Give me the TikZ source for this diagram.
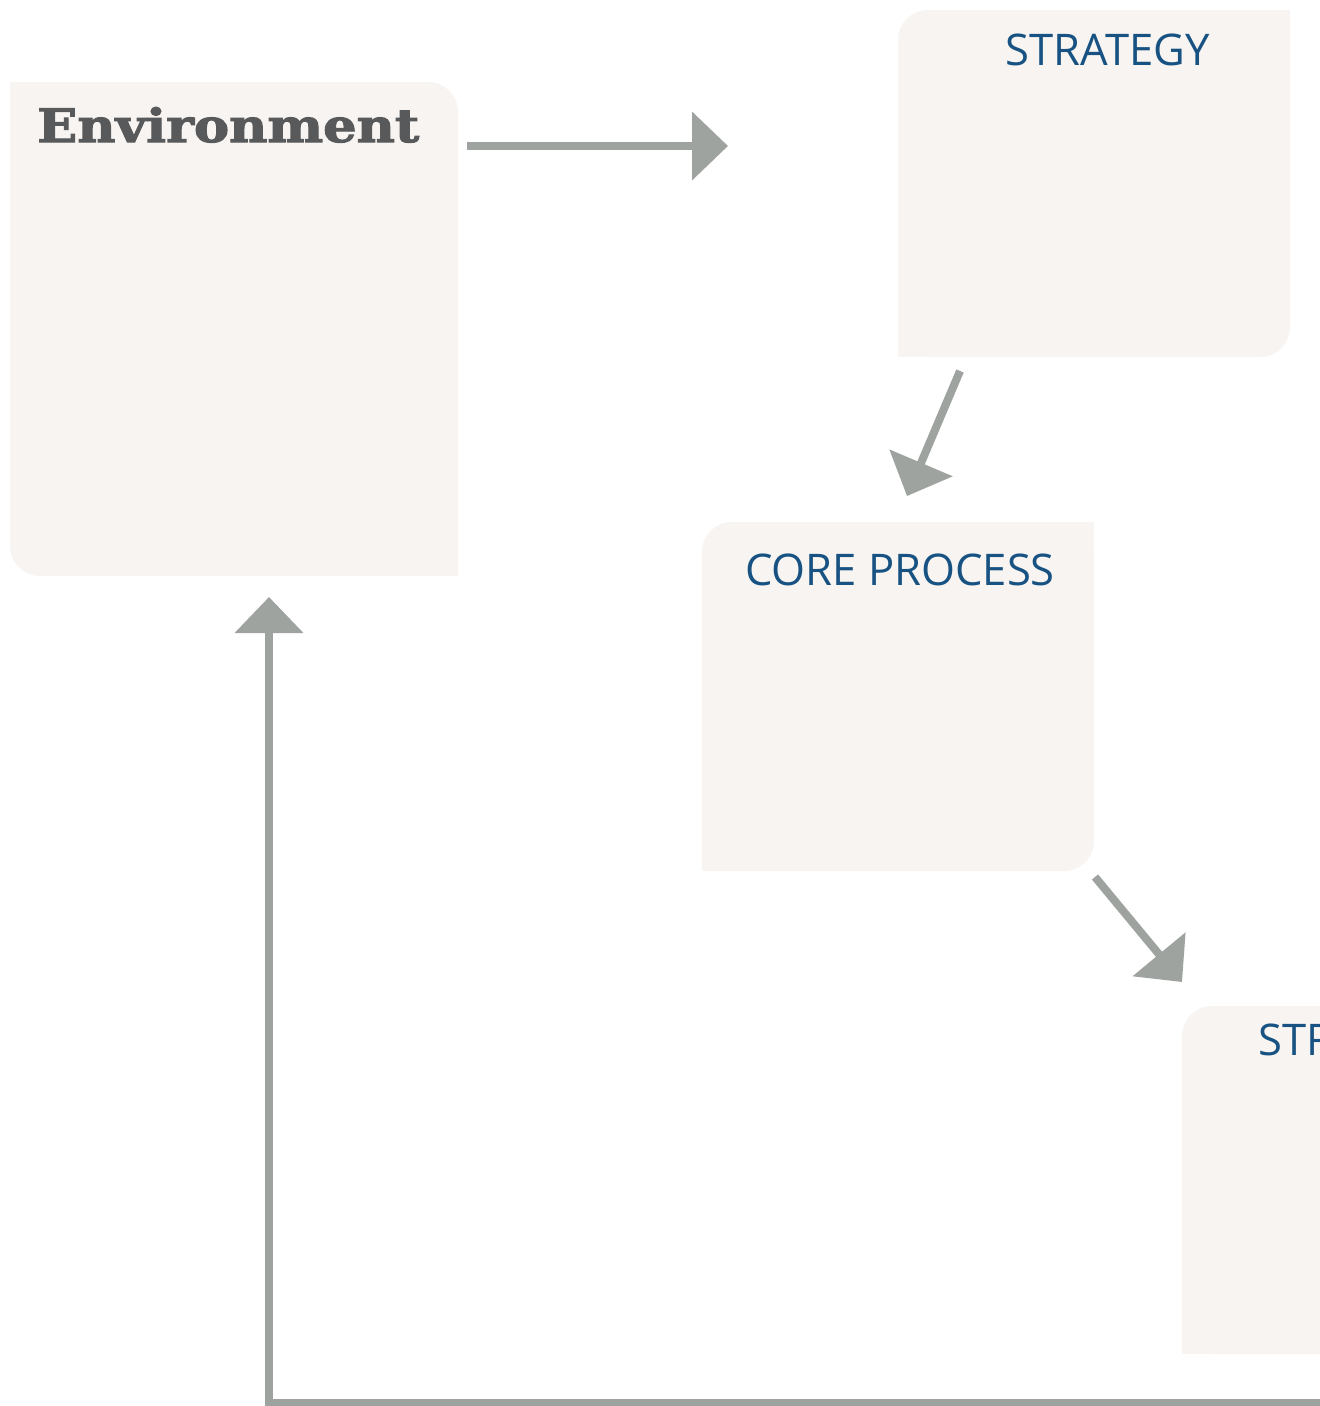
\documentclass[tikz,border=0pt]{standalone}
\usepackage{fontspec}
\usetikzlibrary{arrows.meta}
\newfontfamily\opensans{Open Sans}
\newfontfamily\slab[BoldFeatures={FakeBold=2.2}]{DejaVu Serif}
\definecolor{boxfill}{HTML}{F7F4F1}
\definecolor{arrowgray}{HTML}{9EA39F}
\definecolor{titleblue}{HTML}{185282}
\definecolor{envgray}{HTML}{58595B}
\begin{document}
\begin{tikzpicture}[x=1pt,y=-1pt,
  panel/.style={fill=boxfill, rounded corners=30pt, inner sep=0pt, outer sep=0pt, anchor=north west},
  flow/.style={draw=arrowgray, line width=8pt, line join=miter, -{Triangle[length=36pt,width=67pt]}},
  title/.style={text=titleblue, font=\opensans\fontsize{43.6}{52}\selectfont, inner sep=0pt, anchor=base}]
\useasboundingbox (0,0) rectangle (1320,1406);
\clip (0,0) rectangle (1320,1406);
\fill[white] (0,0) rectangle (1320,1406);
% panels
\node[panel, minimum width=448pt, minimum height=494pt] (env) at (10,82) {};
\fill[boxfill] (env.north west) rectangle ++(40,40);
\fill[boxfill] (env.south east) rectangle ++(-40,-40);
\node[panel, minimum width=392pt, minimum height=347pt] (strat) at (898,10) {};
\fill[boxfill] (strat.north east) rectangle ++(-40,40);
\fill[boxfill] (strat.south west) rectangle ++(40,-40);
\node[panel, minimum width=392pt, minimum height=349pt] (core) at (702,522) {};
\fill[boxfill] (core.north east) rectangle ++(-40,40);
\fill[boxfill] (core.south west) rectangle ++(40,-40);
\node[panel, minimum width=392pt, minimum height=348pt] (struct) at (1182,1006) {};
\fill[boxfill] (struct.north east) rectangle ++(-40,40);
\fill[boxfill] (struct.south west) rectangle ++(40,-40);
% labels
\node[anchor=base west, inner sep=0pt, text=envgray] (envlabel) at (37,142) {\resizebox{382pt}{35pt}{\slab\bfseries Environment}};
\node[title] (stratlabel) at (1107.5,65) {STRATEGY};
\node[title] (corelabel) at (900,585) {CORE PROCESS};
\node[title, anchor=base west] (structlabel) at (1258,1055) {STRUCTURE};
% connectors
\coordinate (a1s) at (467,146);
\coordinate (a1e) at (728,146);
\coordinate (a2s) at (960,371);
\coordinate (a2e) at (907,496);
\coordinate (a3s) at (1095,877);
\coordinate (a3e) at (1182,982);
\coordinate (a4s) at (1330,1403);
\coordinate (a4c) at (269,1403);
\coordinate (a4e) at (269,597);
\draw[flow] (a1s) -- (a1e);
\draw[flow] (a2s) -- (a2e);
\draw[flow] (a3s) -- (a3e);
\draw[flow] (a4s) -- (a4c) -- (a4e);
\end{tikzpicture}
\end{document}
